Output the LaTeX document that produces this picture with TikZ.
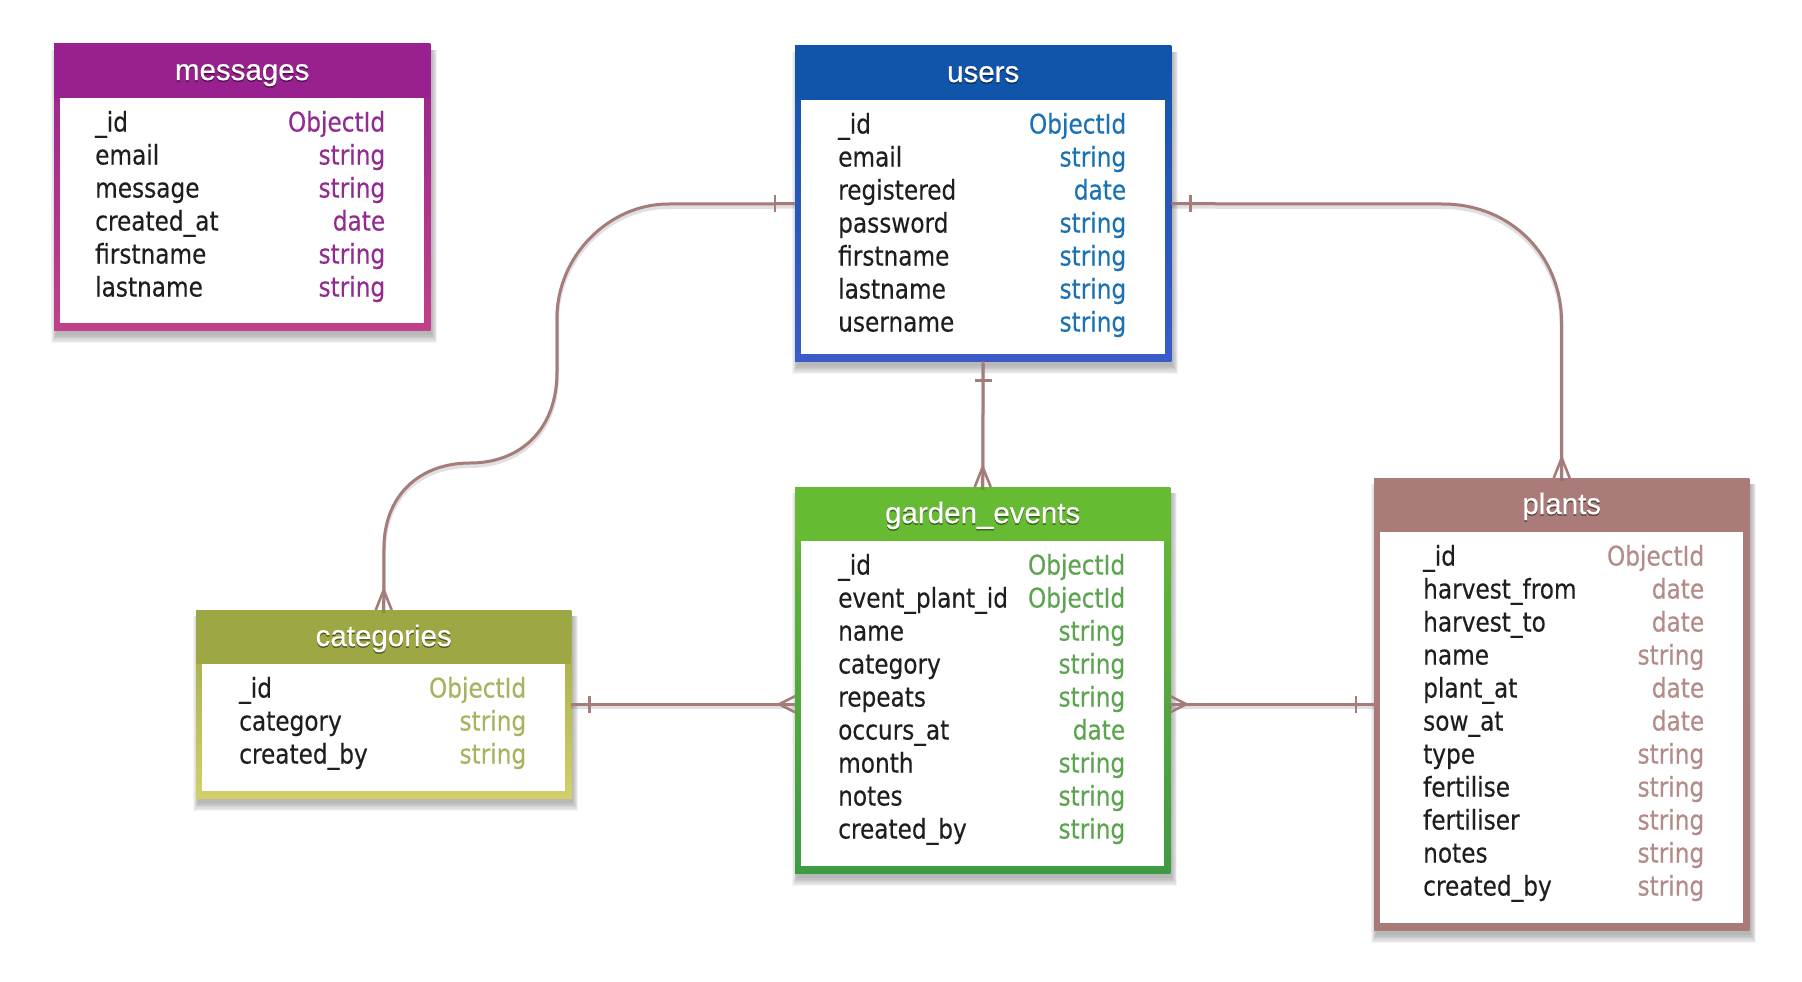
\documentclass[tikz,border=0pt]{standalone}
\usepackage{fontspec}
\setmainfont{DejaVu Sans}
\newfontfamily\fieldfont{DejaVu Sans}[FakeStretch=0.86,FakeBold=0.3]
\newfontfamily\titlefont{Liberation Sans}[FakeBold=0.6]
\usetikzlibrary{calc}

\definecolor{fieldgray}{HTML}{1E1E1E}
\definecolor{linkcol}{HTML}{A67C7A}
% messages
\definecolor{msgHead}{HTML}{99218F}
\definecolor{msgBot}{HTML}{C2408A}
\definecolor{msgType}{HTML}{922C90}
% users
\definecolor{usrHead}{HTML}{1155AA}
\definecolor{usrBot}{HTML}{3B5BC9}
\definecolor{usrType}{HTML}{1A72B5}
% categories
\definecolor{catHead}{HTML}{9DA845}
\definecolor{catBot}{HTML}{D3D06B}
\definecolor{catType}{HTML}{A9B35E}
% garden_events
\definecolor{gevHead}{HTML}{66BB33}
\definecolor{gevBot}{HTML}{3F9A45}
\definecolor{gevType}{HTML}{5DA450}
% plants
\definecolor{plHead}{HTML}{AA7B79}
\definecolor{plBot}{HTML}{A97A78}
\definecolor{plType}{HTML}{B38B89}

\tikzset{
  tablebox/.style={rectangle, draw=none, inner sep=0pt, anchor=north west},
  fieldtext/.style={anchor=base west, inner sep=0pt, text=fieldgray,
    font=\fieldfont\fontsize{27}{33}\selectfont},
  typetext/.style={anchor=base east, inner sep=0pt,
    font=\fieldfont\fontsize{27}{33}\selectfont},
  titletext/.style={anchor=base, inner sep=0pt, text=white,
    font=\titlefont\fontsize{29.5}{32}\selectfont},
  titleshadow/.style={titletext, text=black, text opacity=0.45},
  link/.style={draw=linkcol, line width=3pt,
    preaction={draw=black, draw opacity=0.12, line width=4pt,
      transform canvas={yshift=-3pt}}},
  linkmark/.style={draw=linkcol, line width=2.6pt},
}

% table frame: name, left, top, width, height, header colour, border bottom colour, title
\newcommand\ertable[8]{%
  \node[tablebox, minimum width=#4pt, minimum height=#5pt] (#1) at (#2,#3) {};
  \foreach \k in {0,...,6}{
    \fill[black, opacity=0.045]
      ($(#1.north west)+(2-\k*0.8,6)$) rectangle ($(#1.south east)+(2+\k*0.8,5+\k*1.3)$);
  }
  \shade[top color=#6, bottom color=#7] (#1.north west) rectangle (#1.south east);
  \fill[#6] (#1.north west) rectangle ($(#1.north east)+(0,54)$);
  \fill[white] ($(#1.north west)+(6,54)$) rectangle ($(#1.south east)+(-6,-7)$);
  \node[titleshadow] at ($(#1.north)+(0,37.5)$) {#8};
  \node[titletext] at ($(#1.north)+(0,36)$) {#8};
}

% table rows: name, left inset, type colour, list of field/type
\newcommand\erfields[4]{%
  \foreach \fname/\ftype [count=\i from 0] in {#4}{
    \node[fieldtext] at ($(#1.north west)+(#2,87.5+33*\i)$) {\fname};
    \node[typetext, text=#3] at ($(#1.north east)+(-45,87.5+33*\i)$) {\ftype};
  }
}

% crow's foot where a link meets a box edge
\newcommand\crowdown[1]{%
  \draw[linkmark] ($(#1)+(0,-20)$) -- ($(#1)+(-8,0)$)
                  ($(#1)+(0,-20)$) -- ($(#1)+(8,0)$);}
\newcommand\crowright[1]{%
  \draw[linkmark] ($(#1)+(-16,0)$) -- ($(#1)+(0,-8)$)
                  ($(#1)+(-16,0)$) -- ($(#1)+(0,8)$);}
\newcommand\crowleft[1]{%
  \draw[linkmark] ($(#1)+(16,0)$) -- ($(#1)+(0,-8)$)
                  ($(#1)+(16,0)$) -- ($(#1)+(0,8)$);}
% single bar near a box edge
\newcommand\tickh[1]{\draw[linkmark] ($(#1)+(0,-8.5)$) -- ($(#1)+(0,8.5)$);}
\newcommand\tickv[1]{\draw[linkmark] ($(#1)+(-8.5,0)$) -- ($(#1)+(8.5,0)$);}

\begin{document}
\begin{tikzpicture}[x=1pt,y=-1pt]
\useasboundingbox (0,0) rectangle (1802,982);
\fill[white] (0,0) rectangle (1802,982);

\ertable{messages}{54}{44}{376}{286}{msgHead}{msgBot}{messages}
\erfields{messages}{41}{msgType}{\_id/ObjectId, email/string, message/string,
  created\_at/date, firstname/string, lastname/string}

\ertable{users}{795}{46}{376}{315}{usrHead}{usrBot}{users}
\erfields{users}{43}{usrType}{\_id/ObjectId, email/string, registered/date,
  password/string, firstname/string, lastname/string, username/string}

\ertable{categories}{196}{610}{375}{188}{catHead}{catBot}{categories}
\erfields{categories}{43}{catType}{\_id/ObjectId, category/string, created\_by/string}

\ertable{garden}{795}{487}{375}{386}{gevHead}{gevBot}{garden\_events}
\erfields{garden}{43}{gevType}{\_id/ObjectId, event\_plant\_id/ObjectId, name/string,
  category/string, repeats/string, occurs\_at/date, month/string, notes/string,
  created\_by/string}

\ertable{plants}{1374}{478}{375}{452}{plHead}{plBot}{plants}
\erfields{plants}{49}{plType}{\_id/ObjectId, harvest\_from/date, harvest\_to/date,
  name/string, plant\_at/date, sow\_at/date, type/string, fertilise/string,
  fertiliser/string, notes/string, created\_by/string}

% users -> categories
\draw[link] (users.west) -- (668,204)
  .. controls (610,204) and (557,255) .. (557,318) -- (557,372)
  .. controls (557,430) and (520,463) .. (470,463)
  .. controls (420,463) and (384,495) .. (384,548) -- (categories.north);
\tickh{$(users.west)+(-20,0)$}
\crowdown{categories.north}

% users -> garden_events
\draw[link] (users.south) -- (garden.north);
\tickv{$(users.south)+(0,19)$}
\crowdown{garden.north}

% users -> plants
\draw[link] (users.east) -- (1443,204)
  .. controls (1510,204) and (1561.5,255) .. (1561.5,322) -- (plants.north);
\tickh{$(users.east)+(19,0)$}
\crowdown{plants.north}

% categories -> garden_events
\coordinate (gevL) at (categories.east -| garden.west);
\draw[link] (categories.east) -- (gevL);
\tickh{$(categories.east)+(18,0)$}
\crowright{gevL}

% plants -> garden_events
\coordinate (gevR) at (plants.west -| garden.east);
\draw[link] (gevR) -- (plants.west);
\tickh{$(plants.west)+(-18,0)$}
\crowleft{gevR}
\end{tikzpicture}
\end{document}
